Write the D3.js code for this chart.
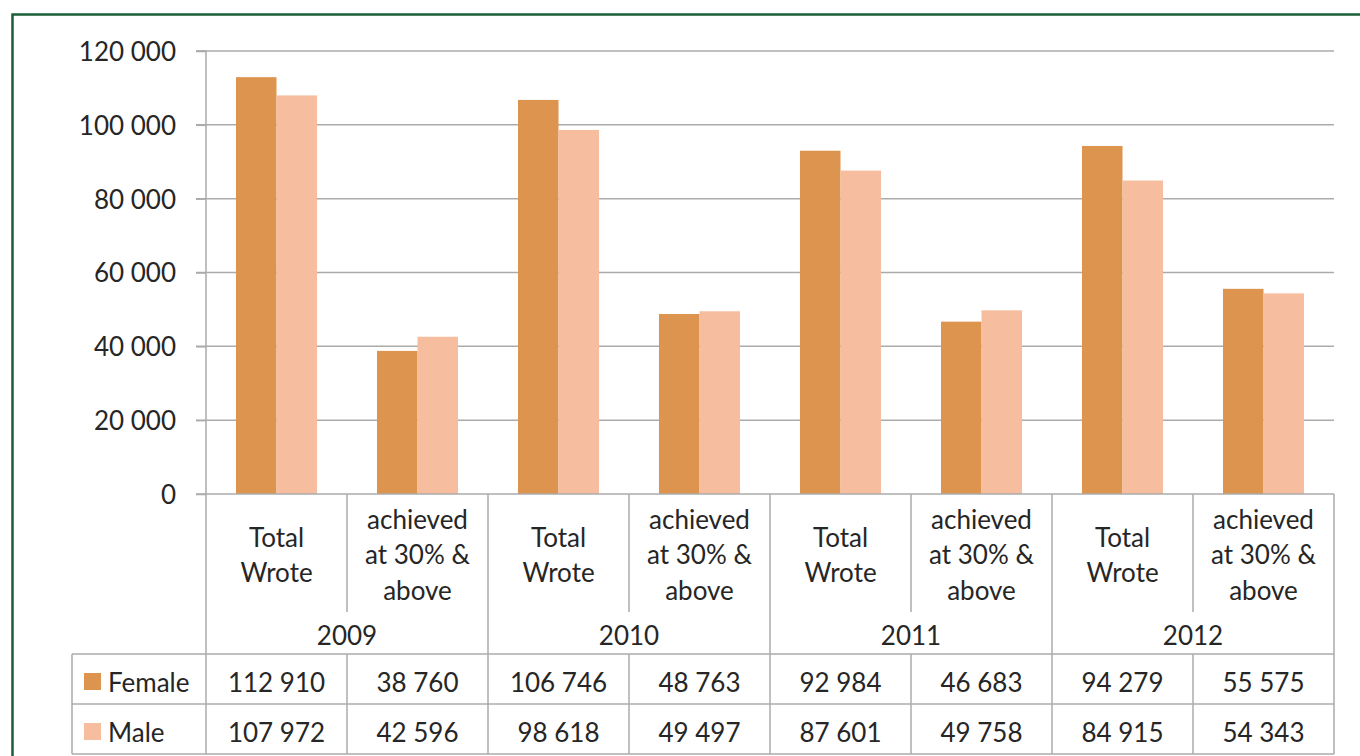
<!DOCTYPE html>
<html><head><meta charset="utf-8">
<script src="https://cdn.jsdelivr.net/npm/d3@7"></script>
<style>
html,body{margin:0;padding:0;background:#fff;}
svg{display:block;}
text{font-family:Lato, "Open Sans", sans-serif;fill:#262626;}
</style></head>
<body>
<svg id="chart" width="1360" height="756"></svg>
<script>
const years = ["2009","2010","2011","2012"];
const measures = ["Total Wrote","achieved at 30% & above"];
const measureLines = [["Total","Wrote"],["achieved","at 30% &","above"]];
const seriesNames = ["Female","Male"];
const femaleValues = [112910, 38760, 106746, 48763, 92984, 46683, 94279, 55575];
const maleValues = [107972, 42596, 98618, 49497, 87601, 49758, 84915, 54343];
const yTicks = [0, 20000, 40000, 60000, 80000, 100000, 120000];
const colors = {Female:"#dc944f", Male:"#f6be9e"};

const svg = d3.select("#chart");
const L = 206, R = 1334, T = 51, B = 494;
const gridColor = "#ababab";

// border
svg.append("rect").attr("x",12.5).attr("y",14.5).attr("width",1400).attr("height",800)
  .attr("fill","none").attr("stroke","#1b5e37").attr("stroke-width",2.5);

const cats = [];
years.forEach((y,yi)=>measures.forEach((m,mi)=>cats.push({year:y, mi, idx:yi*2+mi})));
const data = cats.map((c,i)=>({...c, Female:femaleValues[i], Male:maleValues[i]}));

const x = d3.scaleBand().domain(d3.range(8)).range([L,R]).padding(0);
const xs = d3.scaleBand().domain(seriesNames).range([0,x.bandwidth()]).paddingInner(0).paddingOuter(0.74);
const y = d3.scaleLinear().domain([0,120000]).range([B,T]);

const fmt = v => d3.format(",")(v).replace(/,/g," ");

// gridlines
svg.append("g").selectAll("line").data(yTicks.filter(t=>t>0)).join("line")
  .attr("x1",L-10).attr("x2",R).attr("y1",d=>y(d)).attr("y2",d=>y(d))
  .attr("stroke",gridColor).attr("stroke-width",1.5);

// y axis via d3
const yAxis = d3.axisLeft(y).tickValues(yTicks).tickFormat(fmt).tickSize(10).tickPadding(20);
const ga = svg.append("g").attr("transform",`translate(${L},0)`).call(yAxis);
ga.select(".domain").attr("stroke",gridColor).attr("stroke-width",1.5).attr("d",`M-10,${T}H0V${B}`);
ga.selectAll(".tick line").attr("stroke",gridColor).attr("stroke-width",1.5);
ga.selectAll(".tick text").attr("font-size",26).attr("font-family","Lato").attr("fill","#262626").attr("dy","0.36em");

// bars
const gBars = svg.append("g");
seriesNames.forEach(s=>{
  gBars.selectAll("rect."+s).data(data).join("rect").attr("class",s)
    .attr("x",d=>x(d.idx)+xs(s)).attr("width",xs.bandwidth())
    .attr("y",d=>y(d[s])).attr("height",d=>B-y(d[s]))
    .attr("fill",colors[s]);
});

// category axis line
svg.append("line").attr("x1",L-10).attr("x2",R).attr("y1",B).attr("y2",B).attr("stroke",gridColor).attr("stroke-width",1.5);

const tableTop = 654, rowH = 50, tableLeft = 72;
// category separators
d3.range(9).forEach(i=>{
  const xx = i<8 ? x(i) : R;
  const yEnd = (i%2===0) ? tableTop + rowH*2 : 612;
  svg.append("line").attr("x1",xx).attr("x2",xx).attr("y1",B).attr("y2",yEnd)
    .attr("stroke",gridColor).attr("stroke-width",1.5);
});

// category labels
const catG = svg.append("g");
data.forEach(d=>{
  const lines = measureLines[d.mi];
  const cx = x(d.idx)+x.bandwidth()/2;
  const t = catG.append("text").attr("text-anchor","middle").attr("font-size",26);
  const lh = 35.5;
  const start = 555 - (lines.length-1)*lh/2;
  lines.forEach((ln,k)=>t.append("tspan").attr("x",cx).attr("y",start+k*lh).attr("dy","0.36em").text(ln));
});
// year labels
years.forEach((yr,yi)=>{
  svg.append("text").attr("x",x(yi*2+1)).attr("y",636).attr("dy","0.36em")
    .attr("text-anchor","middle").attr("font-size",26).text(yr);
});

// data table
[tableTop, tableTop+rowH, tableTop+2*rowH].forEach(yy=>{
  svg.append("line").attr("x1",tableLeft).attr("x2",R).attr("y1",yy).attr("y2",yy)
    .attr("stroke",gridColor).attr("stroke-width",1.5);
});
svg.append("line").attr("x1",tableLeft).attr("x2",tableLeft).attr("y1",tableTop).attr("y2",tableTop+2*rowH)
  .attr("stroke",gridColor).attr("stroke-width",1.5);
d3.range(1,8,2).forEach(i=>{
  svg.append("line").attr("x1",x(i)).attr("x2",x(i)).attr("y1",tableTop).attr("y2",tableTop+2*rowH)
    .attr("stroke",gridColor).attr("stroke-width",1.5);
});
seriesNames.forEach((s,si)=>{
  const cy = tableTop + rowH*si + rowH/2 + 4;
  svg.append("rect").attr("x",84).attr("y",cy-10).attr("width",17).attr("height",17).attr("fill",colors[s]);
  svg.append("text").attr("x",108).attr("y",cy).attr("dy","0.36em").attr("font-size",26).text(s);
  data.forEach(d=>{
    svg.append("text").attr("x",x(d.idx)+x.bandwidth()/2).attr("y",cy).attr("dy","0.36em")
      .attr("text-anchor","middle").attr("font-size",26).text(fmt(d[s]));
  });
});
</script>
</body></html>
